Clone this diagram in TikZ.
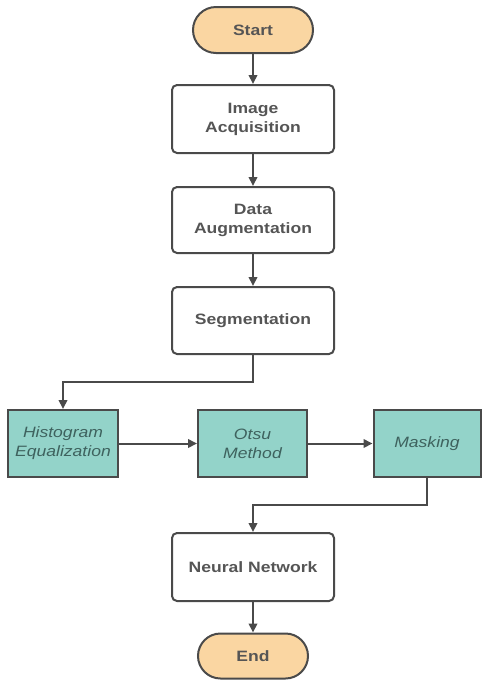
\documentclass[tikz,border=0pt]{standalone}
\usepackage{fontspec}
\setmainfont{Liberation Sans}[FakeStretch=1.17]
\usetikzlibrary{arrows.meta,shapes.misc}

\definecolor{edgegray}{HTML}{4A4A4A}
\definecolor{textgray}{HTML}{555555}
\definecolor{termfill}{HTML}{FAD6A2}
\definecolor{procfill}{HTML}{93D3C9}
\definecolor{proctext}{HTML}{3E625E}

\tikzset{
  base/.style={draw=edgegray, line width=2pt, align=center, inner sep=0pt,
    font=\fontsize{15}{19}\selectfont},
  terminal/.style={base, rounded rectangle, fill=termfill, text=textgray,
    font=\fontsize{15}{19}\selectfont\bfseries},
  stepbox/.style={base, rectangle, rounded corners=5pt, fill=white, text=textgray,
    minimum width=162pt, font=\fontsize{15}{19}\selectfont\bfseries},
  tealbox/.style={base, rectangle, fill=procfill, text=proctext,
    minimum height=67pt, font=\fontsize{15}{19}\selectfont\itshape},
  flow/.style={draw=edgegray, line width=2pt, -{Triangle[length=9pt,width=8.5pt]}}
}

\begin{document}
\begin{tikzpicture}[x=1pt, y=-1pt]
  \useasboundingbox (0,0) rectangle (482,681);

  % main column
  \node[terminal, minimum width=120pt, minimum height=46pt] (start) at (253,30) {Start};
  \node[stepbox, minimum height=68pt] (acq) at (253,119) {Image\\Acquisition};
  \node[stepbox, minimum height=66pt] (aug) at (253,220) {Data\\Augmentation};
  \node[stepbox, minimum height=67pt] (seg) at (253,320.5) {Segmentation};

  % preprocessing row
  \node[tealbox, minimum width=110pt] (hist) at (63,443.5) {Histogram\\Equalization};
  \node[tealbox, minimum width=109pt] (otsu) at (252.5,443.5) {Otsu\\Method};
  \node[tealbox, minimum width=107pt] (mask) at (427,443.5) {Masking};

  % classification and end
  \node[stepbox, minimum height=68pt] (nn) at (253,567) {Neural Network};
  \node[terminal, minimum width=110pt, minimum height=45pt] (end) at (253,656) {End};

  % connectors
  \draw[flow] (start) -- (acq);
  \draw[flow] (acq) -- (aug);
  \draw[flow] (aug) -- (seg);
  \draw[flow] (seg.south) |- (63,382) -| (hist.north);
  \draw[flow] (hist) -- (otsu);
  \draw[flow] (otsu) -- (mask);
  \draw[flow] (mask.south) |- (253,505) -| (nn.north);
  \draw[flow] (nn) -- (end);
\end{tikzpicture}
\end{document}
